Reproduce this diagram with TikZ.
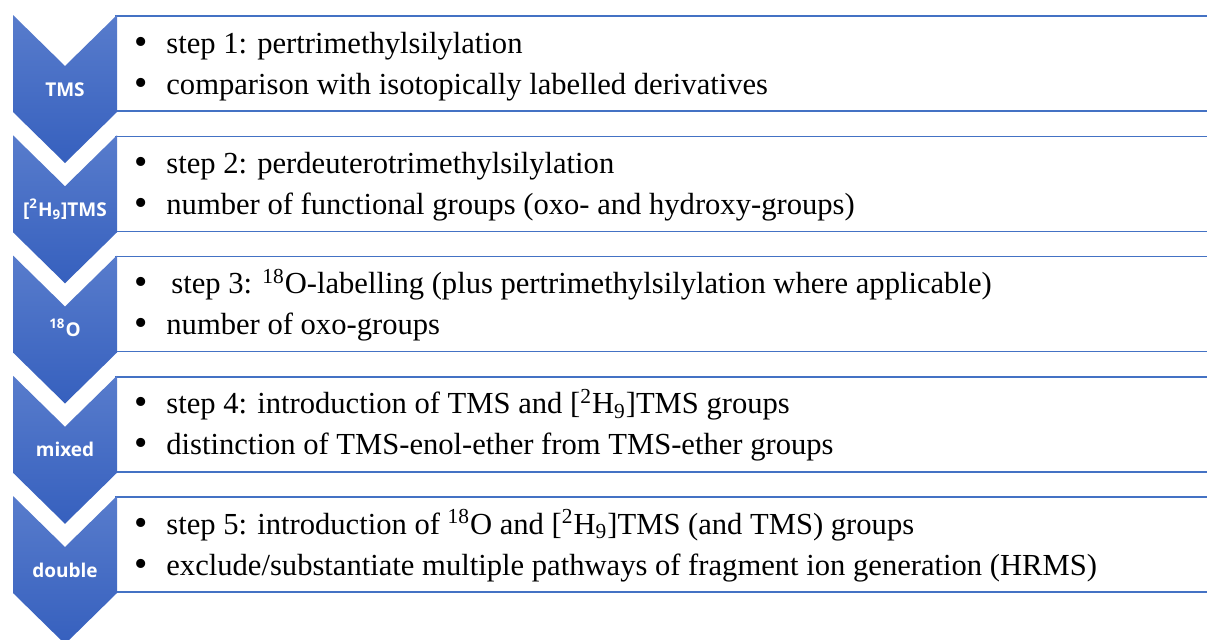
\documentclass[tikz,border=0pt]{standalone}
\usepackage{fontspec}
\setmainfont{Liberation Serif}
\newfontfamily\chevfont{Open Sans}
\usepackage{xcolor}
\usepackage{tikz}
\usetikzlibrary{positioning}

\definecolor{chevtop}{RGB}{88,124,204}
\definecolor{chevbot}{RGB}{54,96,190}
\definecolor{boxline}{RGB}{68,114,196}

\begin{document}
\begin{tikzpicture}[x=0.5pt, y=-0.5pt,
  chevlabel/.style={font=\chevfont\bfseries\fontsize{9.5}{11}\selectfont, text=white, anchor=base, inner sep=0pt},
  bulletmark/.style={font=\fontsize{19}{20}\selectfont, anchor=base, inner sep=0pt},
  bullettext/.style={font=\fontsize{15.3}{18}\selectfont, anchor=base west, inner sep=0pt}]
  \useasboundingbox (0,0) rectangle (1207,639);
  \foreach \i/\lab/\one/\two in {
    1/{TMS}/{step 1: pertrimethylsilylation}/{comparison with isotopically labelled derivatives},
    2/{[\textsuperscript{2}H\textsubscript{9}]TMS}/{step 2: perdeuterotrimethylsilylation}/{number of functional groups (oxo- and hydroxy-groups)},
    3/{\textsuperscript{18}O}/{\hspace{2.5pt}step 3: \textsuperscript{18}O-labelling (plus pertrimethylsilylation where applicable)}/{number of oxo-groups},
    4/{mixed}/{step 4: introduction of TMS and [\textsuperscript{2}H\textsubscript{9}]TMS groups}/{distinction of TMS-enol-ether from TMS-ether groups},
    5/{double}/{step 5: introduction of \textsuperscript{18}O and [\textsuperscript{2}H\textsubscript{9}]TMS (and TMS) groups}/{exclude/substantiate multiple pathways of fragment ion generation (HRMS)}
  } {
    \pgfmathsetmacro{\ytop}{15+120.25*(\i-1)}
    % text box behind the chevron
    \draw[boxline, line width=0.75pt] (116,\ytop+1) rectangle (1208,\ytop+96);
    \shade[top color=chevtop, bottom color=chevbot]
      (13,\ytop) -- (65,\ytop+51) -- (117,\ytop) -- (117,\ytop+97)
      -- (65,\ytop+148) -- (13,\ytop+97) -- cycle;
    \node[chevlabel] (lab\i) at (65,\ytop+81) {\lab};
    \node[bulletmark] (dota\i) at (141,\ytop+39) {\textbullet};
    \node[bullettext] (linea\i) at (166,\ytop+38) {\one};
    \node[bulletmark] (dotb\i) at (141,\ytop+80) {\textbullet};
    \node[bullettext] (lineb\i) at (166,\ytop+79) {\two};
  }
\end{tikzpicture}
\end{document}
